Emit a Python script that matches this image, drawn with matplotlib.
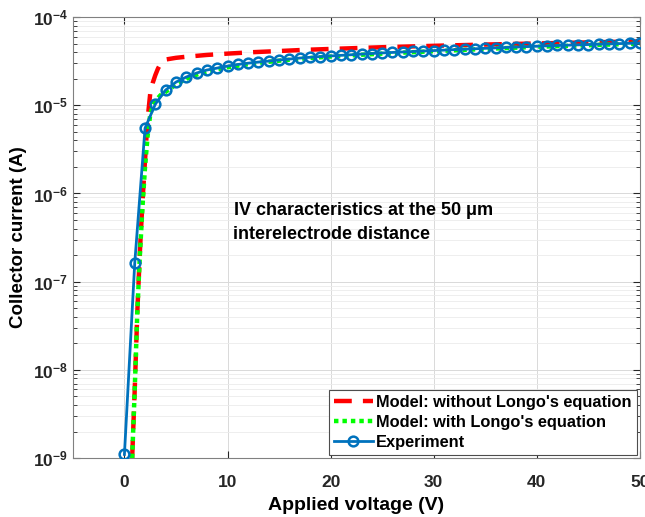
import numpy as np
import matplotlib
matplotlib.use("Agg")
import matplotlib.pyplot as plt
from matplotlib.ticker import LogLocator, NullFormatter, FixedLocator

plt.rcParams["font.family"] = ["Liberation Sans", "DejaVu Sans"]
plt.rcParams["font.weight"] = "bold"
plt.rcParams["mathtext.default"] = "regular"

# Experiment (every 1 V)
exp_v = list(range(0, 51))
exp_i = [1.1e-9, 1.62e-7, 5.5e-6, 1.03e-5, 1.49e-5, 1.83e-5, 2.09e-5, 2.32e-5,
         2.51e-5, 2.64e-5, 2.78e-5, 2.9e-5, 3.0e-5, 3.09e-5, 3.17e-5, 3.26e-5,
         3.34e-5, 3.43e-5, 3.5e-5, 3.56e-5, 3.62e-5, 3.68e-5, 3.74e-5, 3.8e-5,
         3.86e-5, 3.92e-5, 3.97e-5, 4.02e-5, 4.07e-5, 4.12e-5, 4.17e-5, 4.22e-5,
         4.27e-5, 4.32e-5, 4.37e-5, 4.42e-5, 4.47e-5, 4.52e-5, 4.57e-5, 4.62e-5,
         4.67e-5, 4.72e-5, 4.76e-5, 4.8e-5, 4.84e-5, 4.88e-5, 4.92e-5, 4.96e-5,
         5.0e-5, 5.04e-5, 5.08e-5]

# Model without Longo's equation
m1_v = [0.75, 1.0, 1.25, 1.5, 1.75, 2.0, 2.25, 2.5, 2.75, 3.0, 3.25, 3.5, 3.75,
        4.0, 5, 6, 8, 10, 12.5, 15, 17.5, 20, 25, 30, 35, 40, 45, 50]
m1_i = [1e-9, 6e-9, 4.5e-8, 2.2e-7, 8e-7, 2.4e-6, 7e-6, 1.35e-5, 1.8e-5, 2.2e-5,
        2.6e-5, 2.95e-5, 3.15e-5, 3.3e-5, 3.45e-5, 3.55e-5, 3.72e-5, 3.85e-5,
        4.0e-5, 4.12e-5, 4.25e-5, 4.35e-5, 4.55e-5, 4.72e-5, 4.88e-5, 5.02e-5,
        5.16e-5, 5.3e-5]

# Model with Longo's equation
m2_v = [0.75, 1.0, 1.25, 1.5, 1.75, 2.0, 2.25, 2.5, 2.75, 3.0, 3.5, 4, 5, 6, 7, 8,
        10, 12.5, 15, 17.5, 20, 25, 30, 35, 40, 45, 50]
m2_i = [1e-9, 6e-9, 4.5e-8, 2e-7, 7e-7, 2e-6, 4.5e-6, 7.8e-6, 1.0e-5, 1.12e-5,
        1.3e-5, 1.42e-5, 1.72e-5, 2.0e-5, 2.22e-5, 2.42e-5, 2.7e-5, 2.98e-5,
        3.2e-5, 3.4e-5, 3.57e-5, 3.85e-5, 4.1e-5, 4.35e-5, 4.6e-5, 4.8e-5, 5.0e-5]

fig = plt.figure(figsize=(6.45, 5.17), dpi=100)
ax = fig.add_axes([0.113, 0.114, 0.879, 0.853])

ax.semilogy(m1_v, m1_i, color="#FF0000", linestyle=(0, (4, 2.5)), linewidth=3.2,
            label="Model: without Longo's equation", zorder=3)
ax.semilogy(m2_v, m2_i, color="#00FF00", linestyle=(0, (1, 0.9)), linewidth=3.2,
            label="Model: with Longo's equation", zorder=4)
ax.semilogy(exp_v, exp_i, color="#0072BD", linewidth=2, marker="o", markersize=7,
            markerfacecolor="none", markeredgewidth=1.8, label="Experiment", zorder=5)

ax.set_xlim(-5, 50)
ax.set_ylim(1e-9, 1e-4)
ax.xaxis.set_major_locator(FixedLocator([0, 10, 20, 30, 40, 50]))
ax.yaxis.set_major_locator(LogLocator(base=10, numticks=10))
ax.yaxis.set_minor_locator(LogLocator(base=10, subs=np.arange(2, 10), numticks=10))
ax.yaxis.set_minor_formatter(NullFormatter())

ax.grid(True, which="major", color="0.85", linewidth=0.7)
ax.grid(True, which="minor", axis="y", color="0.92", linewidth=0.6)
ax.set_axisbelow(True)

ax.tick_params(which="both", direction="in", top=True, right=True, colors="0.15",
               labelsize=12.5)
ax.tick_params(which="major", length=5)
ax.tick_params(which="minor", length=3)
ax.tick_params(axis="x", pad=12)
for s in ax.spines.values():
    s.set_color("0.5")

ax.set_xlabel("Applied voltage (V)", fontsize=14, fontweight="bold", labelpad=5)
ax.set_ylabel("Collector current (A)", fontsize=13.5, fontweight="bold", labelpad=4)

ax.text(10.5, 8.4e-7, "IV characteristics at the 50 $\\mu$m\ninterelectrode distance",
        fontsize=13, fontweight="bold", linespacing=1.35, va="top")

leg = ax.legend(loc="lower right", fontsize=11.8, fancybox=False, framealpha=1,
                edgecolor="0.3", handlelength=2.4, borderpad=0.3, labelspacing=0.3,
                handletextpad=0.2, borderaxespad=0.2)
leg.get_frame().set_linewidth(0.8)
for t in leg.get_texts():
    t.set_fontweight("bold")

fig.savefig("out.png", dpi=100)
